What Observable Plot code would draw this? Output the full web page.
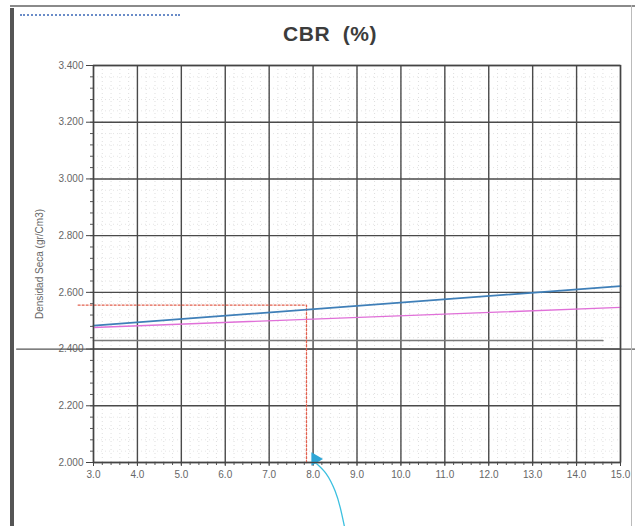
<!DOCTYPE html>
<html>
<head>
<meta charset="utf-8">
<script src="https://cdn.jsdelivr.net/npm/d3@7"></script>
<script src="https://cdn.jsdelivr.net/npm/@observablehq/plot@0.6"></script>
<style>
  html, body { margin: 0; padding: 0; background: #fff; }
  #wrap { position: relative; width: 635px; height: 526px; overflow: hidden; background: #fff; }
  #chart { position: absolute; left: 0; top: 0; }
  #title { position: absolute; left: 0; width: 660px; top: 22px; text-align: center;
           font-family: "Liberation Sans", Arial, sans-serif; font-weight: bold; font-size: 21px; color: #3c3c3c; letter-spacing: 0.5px; }
  #leftbar { position: absolute; left: 10px; top: 8px; width: 4px; height: 520px; background: #555; }
  #topbar { position: absolute; left: 10px; top: 5px; width: 625px; height: 2px; background: #8a8a8a; }
  #rightbar { position: absolute; left: 631px; top: 5px; width: 1px; height: 521px; background: #bbb; }
  #dots { position: absolute; left: 20px; top: 14px; width: 160px; height: 0; border-top: 2px dotted #6a8cc8; }
</style>
</head>
<body>
<div id="wrap">
  <div id="chart"></div>
  <div id="leftbar"></div>
  <div id="topbar"></div>
  <div id="rightbar"></div>
  <div id="dots"></div>
  <div id="title">CBR&nbsp;&nbsp;(%)</div>
</div>
<script>
// Tick labels
const xTicks = [3, 4, 5, 6, 7, 8, 9, 10, 11, 12, 13, 14, 15];
const yTicks = [2.0, 2.2, 2.4, 2.6, 2.8, 3.0, 3.2, 3.4];

// Series
const blueX = [3.0, 15.0];
const blueY = [2.483, 2.622];
const pinkX = [3.0, 15.0];
const pinkY = [2.476, 2.547];
const grayX = [3.0, 14.6];
const grayY = [2.430, 2.430];
// red dotted guide (reading at ~2.555)
const guideX = [2.65, 7.85, 7.85];
const guideY = [2.555, 2.555, 2.0];
// full-width scan rule at 2.400
const scanRuleX = [1.25, 15.35];
const scanRuleY = [2.400, 2.400];
// blue pointer
const markerX = [8.05];
const markerY = [2.012];
const arrowX = [8.05, 8.3, 8.5, 8.62, 8.72];
const arrowY = [2.0, 1.96, 1.9, 1.84, 1.77];

const minorX = d3.range(3, 15.0001, 0.2).map(v => +v.toFixed(2));
const minorY = d3.range(2.0, 3.4001, 0.04).map(v => +v.toFixed(2));

const toPts = (xs, ys) => xs.map((x, i) => ({x, y: ys[i]}));

const chart = Plot.plot({
  width: 635,
  height: 526,
  marginLeft: 93,
  marginRight: 15,
  marginTop: 65,
  marginBottom: 64,
  style: {fontFamily: "'Liberation Sans', Arial, sans-serif", fontSize: "10px", color: "#666", background: "transparent"},
  x: {domain: [3, 15]},
  y: {domain: [2.0, 3.4]},
  marks: [
    Plot.gridX(minorX, {stroke: "#d0d0d0", strokeOpacity: 1, strokeDasharray: "1,3", strokeWidth: 0.7}),
    Plot.gridY(minorY, {stroke: "#dadada", strokeOpacity: 1, strokeDasharray: "1,3", strokeWidth: 0.7}),
    Plot.gridX(xTicks, {stroke: "#4a4a4a", strokeOpacity: 1, strokeWidth: 1.4}),
    Plot.gridY(yTicks, {stroke: "#4a4a4a", strokeOpacity: 1, strokeWidth: 1.4}),
    Plot.axisX(minorX, {tickSize: 3, tickFormat: () => "", stroke: "#555", label: null}),
    Plot.axisY(minorY, {tickSize: 3, tickFormat: () => "", stroke: "#555", label: null}),
    Plot.axisX(xTicks, {tickSize: 4, tickPadding: 4, tickFormat: d => d.toFixed(1), stroke: "#444", label: null, fill: "#666"}),
    Plot.axisY(yTicks, {tickSize: 7, tickPadding: 3, tickFormat: d => d.toFixed(3), stroke: "#444", fill: "#666",
      label: "Densidad Seca (gr/Cm3)", labelAnchor: "center", labelArrow: "none", labelOffset: 58}),
    Plot.line(toPts(scanRuleX, scanRuleY), {x: "x", y: "y", stroke: "#555", strokeWidth: 1.3, clip: false}),
    Plot.line(toPts(grayX, grayY), {x: "x", y: "y", stroke: "#7a7a7a", strokeWidth: 1.6}),
    Plot.line(toPts(guideX, guideY), {x: "x", y: "y", stroke: "#e2604e", strokeWidth: 1.3, strokeDasharray: "2,2", clip: false}),
    Plot.line(toPts(pinkX, pinkY), {x: "x", y: "y", stroke: "#e070d8", strokeWidth: 1.4}),
    Plot.line(toPts(blueX, blueY), {x: "x", y: "y", stroke: "#3f7fb8", strokeWidth: 1.8}),
    Plot.line(toPts(arrowX, arrowY), {x: "x", y: "y", stroke: "#3cc0e0", strokeWidth: 1.3, curve: "natural", clip: false}),
    Plot.dot(toPts(markerX, markerY), {x: "x", y: "y", symbol: "triangle", r: 5, fill: "#2fa6d6", rotate: -30, clip: false}),
    Plot.frame({stroke: "#444", strokeWidth: 1.4})
  ]
});
document.getElementById("chart").appendChild(chart);
</script>
</body>
</html>
